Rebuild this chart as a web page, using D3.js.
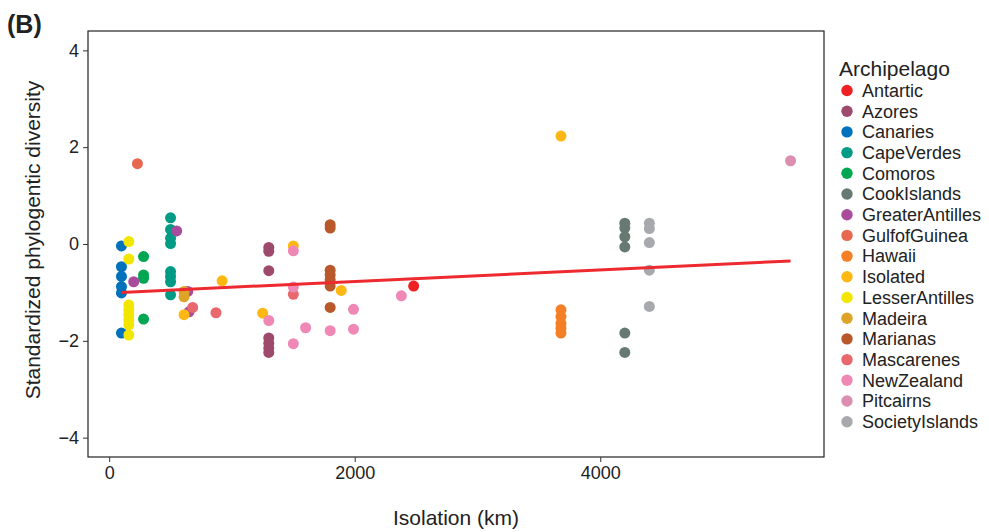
<!DOCTYPE html>
<html>
<head>
<meta charset="utf-8">
<script src="https://cdn.jsdelivr.net/npm/d3@7"></script>
<style>
  body { margin: 0; background: #fff; }
  text { font-family: "Liberation Sans", Arial, sans-serif; fill: #222; }
</style>
</head>
<body>
<svg id="chart" width="989" height="532"></svg>
<script>
const archipelagos = ["Antartic", "Azores", "Canaries", "CapeVerdes", "Comoros", "CookIslands",
  "GreaterAntilles", "GulfofGuinea", "Hawaii", "Isolated", "LesserAntilles", "Madeira",
  "Marianas", "Mascarenes", "NewZealand", "Pitcairns", "SocietyIslands"];
const archColours = ["#ED2024", "#9E4A6C", "#0072BC", "#009B85", "#00A651", "#667A72",
  "#A94C9E", "#E8674F", "#F47F24", "#FDB813", "#F2E500", "#DDA427",
  "#B9582A", "#E8686E", "#F088B6", "#DB8EAF", "#A7A9AC"];

// one entry per island: archipelago, isolation (km), standardized PD
const ptArch = [
  "Antartic",
  "Azores", "Azores", "Azores", "Azores", "Azores", "Azores", "Azores",
  "Canaries", "Canaries", "Canaries", "Canaries", "Canaries", "Canaries",
  "CapeVerdes", "CapeVerdes", "CapeVerdes", "CapeVerdes", "CapeVerdes", "CapeVerdes", "CapeVerdes", "CapeVerdes",
  "Comoros", "Comoros", "Comoros", "Comoros",
  "CookIslands", "CookIslands", "CookIslands", "CookIslands", "CookIslands", "CookIslands",
  "GreaterAntilles", "GreaterAntilles", "GreaterAntilles", "GreaterAntilles",
  "GulfofGuinea",
  "Hawaii", "Hawaii", "Hawaii", "Hawaii", "Hawaii",
  "Isolated", "Isolated", "Isolated", "Isolated", "Isolated", "Isolated",
  "LesserAntilles", "LesserAntilles", "LesserAntilles", "LesserAntilles", "LesserAntilles", "LesserAntilles", "LesserAntilles", "LesserAntilles",
  "Madeira", "Madeira",
  "Marianas", "Marianas", "Marianas", "Marianas", "Marianas", "Marianas", "Marianas",
  "Mascarenes", "Mascarenes", "Mascarenes",
  "NewZealand", "NewZealand", "NewZealand", "NewZealand", "NewZealand", "NewZealand", "NewZealand", "NewZealand", "NewZealand",
  "Pitcairns",
  "SocietyIslands", "SocietyIslands", "SocietyIslands", "SocietyIslands", "SocietyIslands"
];
const ptIso = [
  2480,
  1300, 1300, 1300, 1300, 1300, 1300, 1300,
  100, 100, 100, 100, 100, 100,
  500, 500, 500, 500, 500, 500, 500, 500,
  280, 280, 280, 280,
  4200, 4200, 4200, 4200, 4200, 4200,
  200, 550, 650, 640,
  230,
  3680, 3680, 3680, 3680, 3680,
  3680, 920, 610, 1250, 1500, 1890,
  160, 160, 160, 160, 160, 160, 160, 160,
  610, 610,
  1800, 1800, 1800, 1800, 1800, 1800, 1800,
  680, 870, 1500,
  1300, 1500, 1500, 1500, 1600, 1800, 1990, 1990, 2380,
  5550,
  4400, 4400, 4400, 4400, 4400
];
const ptPD = [
  -0.87,
  -0.07, -0.15, -0.55, -1.94, -2.05, -2.15, -2.24,
  -0.04, -0.47, -0.67, -0.88, -1.01, -1.84,
  0.54, 0.30, 0.12, 0.01, -0.57, -0.67, -0.78, -1.05,
  -0.26, -0.64, -0.71, -1.55,
  0.43, 0.33, 0.15, -0.06, -1.84, -2.24,
  -0.78, 0.27, -1.40, -0.98,
  1.66,
  -1.36, -1.50, -1.64, -1.74, -1.84,
  2.23, -0.76, -1.46, -1.43, -0.04, -0.96,
  0.05, -0.31, -1.26, -1.36, -1.46, -1.57, -1.67, -1.88,
  -0.98, -1.09,
  0.40, 0.33, -0.54, -0.64, -0.74, -0.87, -1.31,
  -1.31, -1.42, -1.04,
  -1.58, -0.14, -0.89, -2.06, -1.73, -1.79, -1.35, -1.76, -1.07,
  1.72,
  0.43, 0.32, 0.03, -0.54, -1.29
];

// linear fit: intercept, slope
const fitCoef = [-1.012, 0.000119];
const xTicks = [0, 2000, 4000];
const yTicks = [-4, -2, 0, 2, 4];

const svg = d3.select("#chart");
const panel = { left: 88, top: 31, right: 824, bottom: 457 };

const x = d3.scaleLinear().domain([-172.5, 5822.5]).range([panel.left, panel.right]);
const y = d3.scaleLinear().domain([-4.4, 4.4]).range([panel.bottom, panel.top]);
const colour = d3.scaleOrdinal().domain(archipelagos).range(archColours);

const points = ptArch.map((a, i) => ({ arch: a, iso: ptIso[i], pd: ptPD[i] }));
points.sort((p, q) => archipelagos.indexOf(p.arch) - archipelagos.indexOf(q.arch));

svg.append("g")
  .selectAll("circle")
  .data(points)
  .join("circle")
  .attr("cx", d => x(d.iso))
  .attr("cy", d => y(d.pd))
  .attr("r", 5.5)
  .attr("fill", d => colour(d.arch));

const xr = d3.extent(ptIso);
svg.append("line")
  .attr("x1", x(xr[0])).attr("y1", y(fitCoef[0] + fitCoef[1] * xr[0]))
  .attr("x2", x(xr[1])).attr("y2", y(fitCoef[0] + fitCoef[1] * xr[1]))
  .attr("stroke", "#ED2A2F")
  .attr("stroke-width", 3);

svg.append("rect")
  .attr("x", panel.left).attr("y", panel.top)
  .attr("width", panel.right - panel.left).attr("height", panel.bottom - panel.top)
  .attr("fill", "none").attr("stroke", "#222").attr("stroke-width", 1.2);

const xAxis = svg.append("g")
  .attr("transform", `translate(0,${panel.bottom})`)
  .call(d3.axisBottom(x).tickValues(xTicks).tickSize(5).tickPadding(4).tickFormat(d3.format("d")));
const yAxis = svg.append("g")
  .attr("transform", `translate(${panel.left},0)`)
  .call(d3.axisLeft(y).tickValues(yTicks).tickSize(5).tickPadding(4).tickFormat(d => d < 0 ? "\u2212" + Math.abs(d) : d));
[xAxis, yAxis].forEach(g => {
  g.select(".domain").remove();
  g.selectAll(".tick line").attr("stroke", "#333");
  g.selectAll(".tick text").attr("font-size", 18).attr("fill", "#222");
});

svg.append("text")
  .attr("x", (panel.left + panel.right) / 2).attr("y", 525)
  .attr("text-anchor", "middle").attr("font-size", 21)
  .text("Isolation (km)");

svg.append("text")
  .attr("transform", `translate(40,${(panel.top + panel.bottom) / 2 - 4}) rotate(-90)`)
  .attr("text-anchor", "middle").attr("font-size", 21)
  .text("Standardized phylogentic diversity");

svg.append("text")
  .attr("x", 7).attr("y", 33)
  .attr("font-size", 25).attr("font-weight", "bold")
  .text("(B)");

const legend = svg.append("g").attr("transform", "translate(836,0)");
legend.append("text").attr("x", 3).attr("y", 76).attr("font-size", 21).text("Archipelago");
const items = legend.selectAll("g.item")
  .data(archipelagos)
  .join("g")
  .attr("class", "item")
  .attr("transform", (d, i) => `translate(0,${90.5 + i * 20.7})`);
items.append("circle").attr("cx", 11).attr("cy", 0).attr("r", 5.7).attr("fill", d => colour(d));
items.append("text").attr("x", 26).attr("y", 6.3).attr("font-size", 18).text(d => d);
</script>
</body>
</html>
